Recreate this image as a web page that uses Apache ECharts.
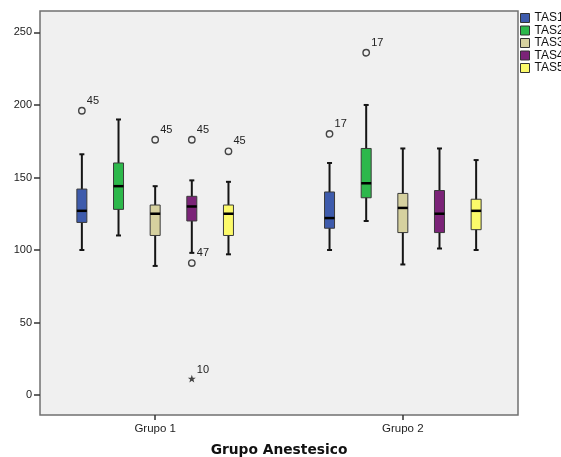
<!DOCTYPE html>
<html><head><meta charset="utf-8">
<script src="https://cdn.jsdelivr.net/npm/echarts@6/dist/echarts.min.js"></script>
<style>html,body{margin:0;padding:0;background:#fff}#c{width:561px;height:457px}</style>
</head><body><div id="c"></div>
<script>
// ---- data ----
const groups = ['Grupo 1', 'Grupo 2'];
const groupPos = [1, 2];
const seriesNames = ['TAS1', 'TAS2', 'TAS3', 'TAS4', 'TAS5'];
const yTicks = [0, 50, 100, 150, 200, 250];
// [group position, min, Q1, median, Q3, max]
const tas1Box = [[1, 100, 119, 127, 142, 166], [2, 100, 115, 122, 140, 160]];
const tas2Box = [[1, 110, 128, 144, 160, 190], [2, 120, 136, 146, 170, 200]];
const tas3Box = [[1, 89, 110, 125, 131, 144], [2, 90, 112, 129, 139, 170]];
const tas4Box = [[1, 98, 120, 130, 137, 148], [2, 101, 112, 125, 141, 170]];
const tas5Box = [[1, 97, 110, 125, 131, 147], [2, 100, 114, 127, 135, 162]];
// [group position, value, case number]
const tas1Outliers = [[1, 196, 45], [2, 180, 17]];
const tas2Outliers = [[2, 236, 17]];
const tas3Outliers = [[1, 176, 45]];
const tas4Outliers = [[1, 176, 45], [1, 91, 47]];
const tas5Outliers = [[1, 168, 45]];
const tas1Extremes = [];
const tas2Extremes = [];
const tas3Extremes = [];
const tas4Extremes = [[1, 11, 10]];
const tas5Extremes = [];

const boxes = [tas1Box, tas2Box, tas3Box, tas4Box, tas5Box];
const outliers = [tas1Outliers, tas2Outliers, tas3Outliers, tas4Outliers, tas5Outliers];
const extremes = [tas1Extremes, tas2Extremes, tas3Extremes, tas4Extremes, tas5Extremes];
const colors = ['#3E5BAC', '#2DB84B', '#D6D19F', '#7B2378', '#FCFA6A'];

// ---- layout / style ----
const FONT = '"Liberation Sans", Arial, sans-serif';
const BOX_STEP = 36.65, BOX_W = 10, CAP_W = 5;

function boxRender(k) {
  const dx = (k - 2) * BOX_STEP;
  return function (params, api) {
    const g = api.value(0);
    const x = api.coord([g, 0])[0] + dx;
    const y = v => api.coord([g, v])[1];
    const yMin = y(api.value(1)), yQ1 = y(api.value(2)), yMed = y(api.value(3)),
          yQ3 = y(api.value(4)), yMax = y(api.value(5));
    const ln = { stroke: '#151515', lineWidth: 2 };
    return { type: 'group', children: [
      { type: 'line', shape: { x1: x, y1: yMax, x2: x, y2: yMin }, style: ln },
      { type: 'line', shape: { x1: x - CAP_W / 2, y1: yMax, x2: x + CAP_W / 2, y2: yMax }, style: ln },
      { type: 'line', shape: { x1: x - CAP_W / 2, y1: yMin, x2: x + CAP_W / 2, y2: yMin }, style: ln },
      { type: 'rect', shape: { x: x - BOX_W / 2, y: yQ3, width: BOX_W, height: yQ1 - yQ3 },
        style: { fill: colors[k], stroke: '#3a3a3a', lineWidth: 1 } },
      { type: 'line', shape: { x1: x - BOX_W / 2, y1: yMed, x2: x + BOX_W / 2, y2: yMed },
        style: { stroke: '#000', lineWidth: 2.5 } }
    ] };
  };
}

function starPoints(cx, cy, R, r) {
  const pts = [];
  for (let i = 0; i < 10; i++) {
    const a = -Math.PI / 2 + i * Math.PI / 5;
    const rr = i % 2 === 0 ? R : r;
    pts.push([cx + rr * Math.cos(a), cy + rr * Math.sin(a)]);
  }
  return pts;
}

function pointRender(k, isExtreme) {
  const dx = (k - 2) * BOX_STEP;
  return function (params, api) {
    const p = api.coord([api.value(0), api.value(1)]);
    const x = p[0] + dx, y = p[1];
    const marker = isExtreme
      ? { type: 'polygon', shape: { points: starPoints(x, y, 4.2, 1.7) }, style: { fill: '#444' } }
      : { type: 'circle', shape: { cx: x, cy: y, r: 3.2 }, style: { fill: 'none', stroke: '#444', lineWidth: 1.4 } };
    return { type: 'group', children: [
      marker,
      { type: 'text', x: x + 5, y: y - (isExtreme ? 9 : 10),
        style: { text: String(api.value(2)), fill: '#222', font: '11px ' + FONT, align: 'left', verticalAlign: 'middle' } }
    ] };
  };
}

const series = [];
seriesNames.forEach((name, k) => {
  series.push({ type: 'custom', name: name, renderItem: boxRender(k), data: boxes[k],
    encode: { x: 0, y: [1, 2, 3, 4, 5] }, itemStyle: { color: colors[k] } });
  if (outliers[k].length) series.push({ type: 'custom', renderItem: pointRender(k, false),
    data: outliers[k], encode: { x: 0, y: 1 }, itemStyle: { color: colors[k] } });
  if (extremes[k].length) series.push({ type: 'custom', renderItem: pointRender(k, true),
    data: extremes[k], encode: { x: 0, y: 1 }, itemStyle: { color: colors[k] } });
});

const chart = echarts.init(document.getElementById('c'), null, { renderer: 'canvas' });
chart.setOption({
  animation: false,
  backgroundColor: '#fff',
  grid: { left: 40, right: 43, top: 11, bottom: 42, show: true, backgroundColor: '#F0F0F0',
          borderColor: '#707070', borderWidth: 1.5, containLabel: false, outerBoundsMode: 'none' },
  legend: { data: seriesNames, orient: 'vertical', left: 520, top: 12, padding: 0,
            icon: 'rect', itemWidth: 9, itemHeight: 9, itemGap: 0.5,
            itemStyle: { borderColor: '#333', borderWidth: 1 },
            textStyle: { fontFamily: FONT, fontSize: 12, color: '#111', padding: [0, 0, 0, 0] } },
  xAxis: { type: 'value', min: 0.535, max: 2.465,
    axisLine: { show: false, onZero: false }, splitLine: { show: false },
    axisTick: { show: true, customValues: groupPos, length: 5, lineStyle: { color: '#333', width: 1.5 } },
    axisLabel: { customValues: groupPos, formatter: v => groups[groupPos.indexOf(Math.round(v))],
                 margin: 8, fontFamily: FONT, fontSize: 11.5, color: '#222' },
    name: 'Grupo Anestesico', nameLocation: 'middle', nameGap: 28,
    nameTextStyle: { fontFamily: '"DejaVu Sans", sans-serif', fontWeight: 'bold', fontSize: 13.8, color: '#111' } },
  yAxis: { type: 'value', min: -13.8, max: 264.8,
    axisLine: { show: false, onZero: false }, splitLine: { show: false },
    axisTick: { show: true, customValues: yTicks, length: 6, lineStyle: { color: '#333', width: 1.5 } },
    axisLabel: { customValues: yTicks, margin: 8, fontFamily: FONT, fontSize: 11, color: '#222' } },
  series: series
});
</script></body></html>
